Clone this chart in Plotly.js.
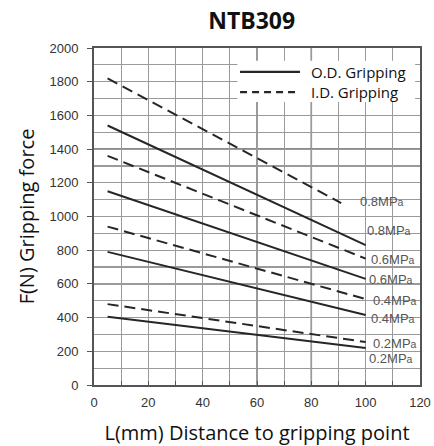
<!DOCTYPE html>
<html>
<head>
<meta charset="utf-8">
<script src="https://cdn.plot.ly/plotly-3.0.1.min.js"></script>
<style>html,body{margin:0;padding:0;background:#fff;}#chart{width:434px;height:446px;}</style>
</head>
<body>
<div id="chart"></div>
<script>
// ---- data ----
var pressures = ["0.8MPa", "0.6MPa", "0.4MPa", "0.2MPa"];
var odX = [5, 100];
var od08 = [1540, 830];
var od06 = [1150, 630];
var od04 = [790, 415];
var od02 = [405, 220];
var idX08 = [5, 91];
var idX = [5, 100];
var id08 = [1820, 1080];
var id06 = [1360, 750];
var id04 = [940, 510];
var id02 = [480, 255];
var xTicks = [0, 20, 40, 60, 80, 100, 120];
var yTicks = [0, 200, 400, 600, 800, 1000, 1200, 1400, 1600, 1800, 2000];

var lineColor = '#262626';
var odSeries = [od08, od06, od04, od02];
var idSeries = [id08, id06, id04, id02];
var idXs = [idX08, idX, idX, idX];

var traces = [];
odSeries.forEach(function (ys, i) {
  traces.push({x: odX, y: ys, mode: 'lines', type: 'scatter', name: 'O.D. ' + pressures[i],
    line: {color: lineColor, width: 2}, showlegend: false, hoverinfo: 'skip'});
});
idSeries.forEach(function (ys, i) {
  traces.push({x: idXs[i], y: ys, mode: 'lines', type: 'scatter', name: 'I.D. ' + pressures[i],
    line: {color: lineColor, width: 2, dash: '11px,6px'}, showlegend: false, hoverinfo: 'skip'});
});

// labels anchored at line end points, with pixel offsets
var labelFont = {family: 'Liberation Sans, Arial, sans-serif', size: 13, color: '#555'};
function lab(txt, xs, ys, dx, dy) {
  return {x: xs[xs.length - 1], y: ys[ys.length - 1], xref: 'x', yref: 'y',
    text: txt.replace('MPa', 'MP<span style="font-size:10.5px">a</span>'),
    showarrow: false, xanchor: 'left', yanchor: 'middle', xshift: dx, yshift: dy, font: labelFont};
}
var annotations = [
  lab(pressures[0], idXs[0], id08, 17, 2),
  lab(pressures[0], odX, od08, -1, 15),
  lab(pressures[1], idX, id06, 3, -1),
  lab(pressures[1], odX, od06, 1, -1),
  lab(pressures[2], idX, id04, 5, -1),
  lab(pressures[2], odX, od04, 3, -3),
  lab(pressures[3], idX, id02, 5, -1),
  lab(pressures[3], odX, od02, 1, -11)
];
// custom legend
var legFont = {family: 'Open Sans, Noto Sans, sans-serif', size: 15, color: '#111'};
annotations.push({xref: 'paper', yref: 'paper', x: 0.66, y: 0.929, text: 'O.D. Gripping', showarrow: false,
  xanchor: 'left', yanchor: 'middle', font: legFont});
annotations.push({xref: 'paper', yref: 'paper', x: 0.66, y: 0.869, text: 'I.D. Gripping', showarrow: false,
  xanchor: 'left', yanchor: 'middle', font: legFont});

var shapes = [
  {type: 'line', xref: 'x', yref: 'paper', x0: 80, x1: 80, y0: 0, y1: 1, layer: 'below',
    line: {color: '#666', width: 1.5}},
  {type: 'line', xref: 'paper', yref: 'y', x0: 0, x1: 1, y0: 1400, y1: 1400, layer: 'below',
    line: {color: '#666', width: 1.5}},
  {type: 'rect', xref: 'paper', yref: 'paper', x0: 0.44, x1: 0.985, y0: 0.84, y1: 0.962,
    fillcolor: '#ffffff', line: {width: 0}, layer: 'above'},
  {type: 'line', xref: 'paper', yref: 'paper', x0: 0.448, x1: 0.632, y0: 0.929, y1: 0.929,
    line: {color: lineColor, width: 2.2}, layer: 'above'},
  {type: 'line', xref: 'paper', yref: 'paper', x0: 0.448, x1: 0.632, y0: 0.869, y1: 0.869,
    line: {color: lineColor, width: 2.2, dash: '7px,5px'}, layer: 'above'}
];

var tickFont = {family: 'Liberation Sans, Arial, sans-serif', size: 13, color: '#333'};
var titleFont = {family: 'Open Sans, Noto Sans, sans-serif', size: 20, color: '#111'};
var gridC = '#9a9a9a';

var layout = {
  width: 434, height: 446,
  margin: {l: 94, r: 14, t: 48, b: 61},
  paper_bgcolor: '#fff', plot_bgcolor: '#fff',
  title: {text: '<b>NTB309</b>', x: 0.58, xanchor: 'center', y: 0.952, yanchor: 'middle',
    font: {family: 'Open Sans, Noto Sans, sans-serif', size: 23, color: '#111'}},
  showlegend: false,
  xaxis: {range: [0, 120], tickvals: xTicks, ticktext: xTicks.map(String),
    showgrid: true, gridcolor: gridC, gridwidth: 1.2,
    minor: {dtick: 10, showgrid: true, gridcolor: gridC, gridwidth: 1.2, ticks: 'inside', ticklen: 4, tickcolor: '#555'},
    ticks: 'inside', ticklen: 4, tickcolor: '#555',
    showline: true, linecolor: '#555', linewidth: 2, mirror: true, zeroline: false,
    tickfont: tickFont, ticklabelstandoff: 4,
    title: {text: 'L(mm) Distance to gripping point', font: titleFont, standoff: 17}},
  yaxis: {range: [0, 2000], tickvals: yTicks, ticktext: yTicks.map(String),
    showgrid: true, gridcolor: gridC, gridwidth: 1.2,
    minor: {dtick: 100, showgrid: true, gridcolor: gridC, gridwidth: 1.2},
    ticks: 'outside', ticklen: 5, tickcolor: '#555',
    showline: true, linecolor: '#555', linewidth: 2, mirror: true, zeroline: false,
    tickfont: tickFont, ticklabelstandoff: 6,
    title: {text: 'F(N) Gripping force', font: titleFont, standoff: 9}},
  shapes: shapes,
  annotations: annotations
};

Plotly.newPlot('chart', traces, layout, {displayModeBar: false, staticPlot: true});
</script>
</body>
</html>
